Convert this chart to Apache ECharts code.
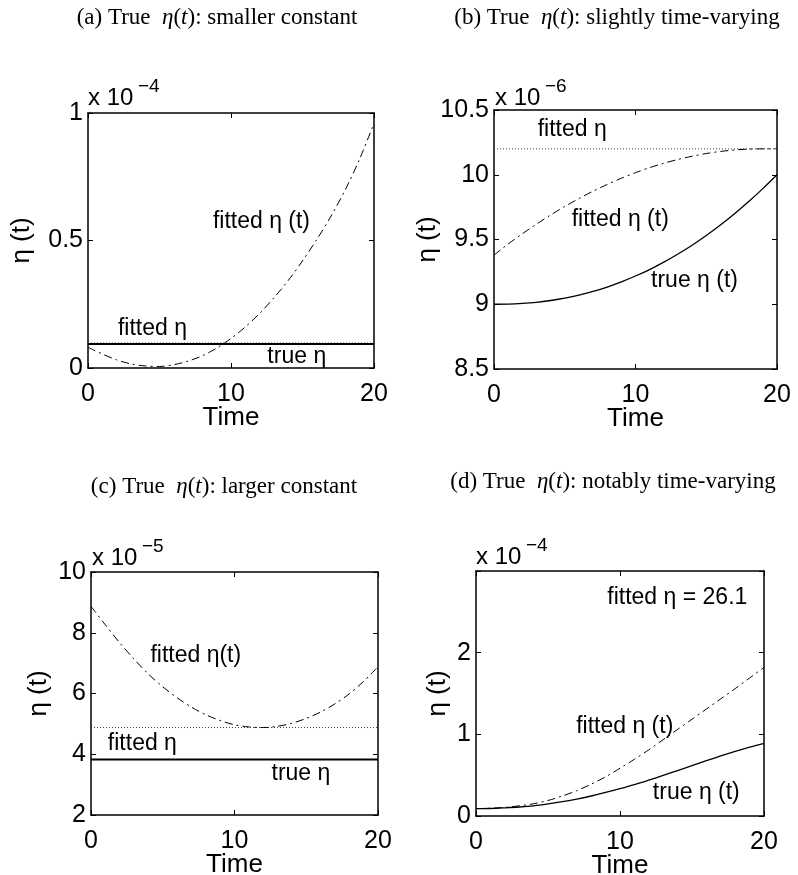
<!DOCTYPE html>
<html>
<head>
<meta charset="utf-8">
<script src="https://cdn.jsdelivr.net/npm/echarts@6/dist/echarts.min.js"></script>
<style>
html,body{margin:0;padding:0;background:#fff;}
#main{width:798px;height:875px;}
</style>
</head>
<body>
<div id="main"></div>
<script>
// ---------- data ----------
const time = [0,1,2,3,4,5,6,7,8,9,10,11,12,13,14,15,16,17,18,19,20];
const timeEnds = [0, 20];

// (a) smaller constant  (x 10^-4)
const aFittedCurve = [0.081,0.055,0.032,0.016,0.008,0.006,0.013,0.027,0.048,0.078,0.116,0.161,0.214,0.275,0.343,0.420,0.504,0.596,0.700,0.820,0.960];
const aTrueConst = 0.094;
const aFittedConst = 0.098;

// (b) slightly time-varying  (x 10^-6)
const bFittedCurve = [9.380,9.465,9.544,9.619,9.689,9.755,9.816,9.873,9.925,9.973,10.016,10.055,10.089,10.118,10.143,10.164,10.180,10.191,10.198,10.200,10.200];
const bTrueCurve = [9.000,9.001,9.006,9.015,9.029,9.047,9.071,9.099,9.133,9.173,9.218,9.268,9.325,9.388,9.456,9.531,9.612,9.699,9.793,9.893,10.000];
const bFittedConst = 10.2;

// (c) larger constant  (x 10^-5)
const cFittedCurve = [8.87,8.26,7.67,7.13,6.64,6.22,5.86,5.55,5.30,5.11,4.97,4.90,4.88,4.92,5.02,5.18,5.39,5.66,5.99,6.40,6.88];
const cTrueConst = 3.83;
const cFittedConst = 4.88;

// (d) notably time-varying  (x 10^-4)
const dFittedCurve = [0.090,0.095,0.105,0.125,0.150,0.190,0.245,0.310,0.390,0.480,0.585,0.695,0.810,0.935,1.060,1.185,1.310,1.435,1.560,1.690,1.820];
const dTrueCurve = [0.090,0.092,0.100,0.110,0.125,0.148,0.175,0.208,0.245,0.288,0.335,0.385,0.440,0.497,0.557,0.618,0.678,0.735,0.790,0.842,0.890];

// panel titles and texts
const panelTitles = [
  ['(a) True', 'smaller constant'],
  ['(b) True', 'slightly time-varying'],
  ['(c) True', 'larger constant'],
  ['(d) True', 'notably time-varying']
];
const exponents = ['\u22124', '\u22126', '\u22125', '\u22124'];
const xName = 'Time';
const yName = '\u03b7 (t)';

const aNotes = [[12.13, 0.573, 'fitted \u03b7 (t)'], [4.51, 0.154, 'fitted \u03b7'], [14.6, 0.043, 'true \u03b7']];
const bNotes = [[5.53, 10.347, 'fitted \u03b7'], [8.92, 9.657, 'fitted \u03b7 (t)'], [14.17, 9.18, 'true \u03b7 (t)']];
const cNotes = [[7.30, 7.26, 'fitted \u03b7(t)'], [3.58, 4.36, 'fitted \u03b7'], [14.63, 3.35, 'true \u03b7']];
const dNotes = [[13.98, 2.67, 'fitted \u03b7 = 26.1'], [10.33, 1.10, 'fitted \u03b7 (t)'], [15.3, 0.29, 'true \u03b7 (t)']];

// ---------- layout ----------
const grids = [
  {left: 88, top: 113, width: 286, height: 255},
  {left: 494, top: 110, width: 283, height: 259},
  {left: 91, top: 572, width: 287, height: 243},
  {left: 476, top: 571, width: 288, height: 245}
];
const yRanges = [
  {min: 0, max: 1, interval: 0.5},
  {min: 8.5, max: 10.5, interval: 0.5},
  {min: 2, max: 10, interval: 2},
  {min: 0, max: 3, interval: 1}
];
const yNameGaps = [53, 53, 39, 25];
const titlePos = [[217, 18], [617, 18], [224, 487], [613, 482]];
const expPos = [[88, 98.4], [495, 98.4], [92, 558], [476, 557]];

const SANS = 'Liberation Sans';
const SERIF = 'Liberation Serif';
const DASHDOT = [8, 4, 2, 4];
const DOTTED = [1, 2];

const xAxes = [], yAxes = [], series = [], graphics = [];
const axisLineStyle = {show: true, onZero: false, lineStyle: {color: '#000', width: 1.5}};
const tickStyle = {show: true, inside: true, length: 5, lineStyle: {color: '#000', width: 1}};

grids.forEach((g, i) => {
  const xBase = {gridIndex: i, type: 'value', min: 0, max: 20, interval: 10,
    axisLine: axisLineStyle, splitLine: {show: false}, axisTick: tickStyle};
  xAxes.push(Object.assign({}, xBase, {position: 'bottom',
    axisLabel: {show: true, color: '#000', fontFamily: SANS, fontSize: 25, margin: 14, showMinLabel: true, showMaxLabel: true},
    name: xName, nameLocation: 'middle', nameGap: 37, nameMoveOverlap: false,
    nameTextStyle: {color: '#000', fontFamily: SANS, fontSize: 26}}));
  xAxes.push(Object.assign({}, xBase, {position: 'top', axisLabel: {show: false}}));
  const yr = yRanges[i];
  const yBase = {gridIndex: i, type: 'value', min: yr.min, max: yr.max, interval: yr.interval,
    axisLine: axisLineStyle, splitLine: {show: false}, axisTick: tickStyle};
  yAxes.push(Object.assign({}, yBase, {position: 'left',
    axisLabel: {show: true, color: '#000', fontFamily: SANS, fontSize: 25, margin: 5, showMinLabel: true, showMaxLabel: true,
      formatter: v => (i === 3 && v === 3) ? '' : String(v)},
    name: yName, nameLocation: 'middle', nameGap: yNameGaps[i], nameMoveOverlap: false, nameRotate: 90,
    nameTextStyle: {color: '#000', fontFamily: SANS, fontSize: 26}}));
  yAxes.push(Object.assign({}, yBase, {position: 'right', axisLabel: {show: false}}));

  // title
  const t = panelTitles[i];
  graphics.push({type: 'text', x: titlePos[i][0], y: titlePos[i][1], silent: true,
    style: {text: '{n|' + t[0] + '  }{i|\u03b7}{n|(}{i|t}{n|): ' + t[1] + '}',
      rich: {n: {fontFamily: SERIF, fontSize: 23, fill: '#000'}, i: {fontFamily: SERIF, fontSize: 23, fontStyle: 'italic', fill: '#000'}},
      align: 'center', verticalAlign: 'middle', textAlign: 'center', textVerticalAlign: 'middle', fill: '#000'}});
  // exponent
  graphics.push({type: 'text', x: expPos[i][0], y: expPos[i][1], silent: true,
    style: {text: 'x 10', font: '24px ' + SANS, fill: '#000', align: 'left', verticalAlign: 'middle', textAlign: 'left', textVerticalAlign: 'middle'}});
  graphics.push({type: 'text', x: expPos[i][0] + 50, y: expPos[i][1] - 11.7, silent: true,
    style: {text: exponents[i], font: '19px ' + SANS, fill: '#000', align: 'left', verticalAlign: 'middle', textAlign: 'left', textVerticalAlign: 'middle'}});
});

function curve(name, gi, ys, type, width) {
  return {name, type: 'line', xAxisIndex: gi * 2, yAxisIndex: gi * 2, symbol: 'none', silent: true,
    smooth: 0.3,
    data: time.map((t, k) => [t, ys[k]]),
    lineStyle: {color: '#000', width: width, type: type, opacity: 1}, z: 3};
}
function constLine(name, gi, v, type, width, color) {
  return {name, type: 'line', xAxisIndex: gi * 2, yAxisIndex: gi * 2, symbol: 'none', silent: true,
    data: timeEnds.map(t => [t, v]),
    lineStyle: {color: color || '#000', width: width, type: type, opacity: 1}, z: 2};
}
function notes(gi, arr) {
  return {type: 'scatter', xAxisIndex: gi * 2, yAxisIndex: gi * 2, symbolSize: 0, silent: true,
    itemStyle: {opacity: 1, color: '#000'},
    data: arr.map(n => ({value: [n[0], n[1]], name: n[2]})),
    label: {show: true, position: 'inside', formatter: '{b}', color: '#000', opacity: 1,
      textBorderWidth: 0, fontFamily: SANS, fontSize: 23},
    z: 5};
}

series.push(
  constLine('fitted η (a)', 0, aFittedConst, DOTTED, 1, '#444'),
  constLine('true η (a)', 0, aTrueConst, 'solid', 2),
  curve('fitted η(t) (a)', 0, aFittedCurve, DASHDOT, 1),
  notes(0, aNotes),

  constLine('fitted η (b)', 1, bFittedConst, DOTTED, 1, '#444'),
  curve('true η(t) (b)', 1, bTrueCurve, 'solid', 1.3),
  curve('fitted η(t) (b)', 1, bFittedCurve, DASHDOT, 1),
  notes(1, bNotes),

  constLine('fitted η (c)', 2, cFittedConst, DOTTED, 1, '#444'),
  constLine('true η (c)', 2, cTrueConst, 'solid', 2),
  curve('fitted η(t) (c)', 2, cFittedCurve, DASHDOT, 1),
  notes(2, cNotes),

  curve('true η(t) (d)', 3, dTrueCurve, 'solid', 1.3),
  curve('fitted η(t) (d)', 3, dFittedCurve, DASHDOT, 1),
  notes(3, dNotes)
);

const chart = echarts.init(document.getElementById('main'), null, {renderer: 'canvas'});
chart.setOption({
  backgroundColor: '#fff',
  animation: false,
  grid: grids.map(g => Object.assign({containLabel: false, outerBoundsMode: 'none'}, g)),
  xAxis: xAxes,
  yAxis: yAxes,
  series: series,
  graphic: graphics
});
</script>
</body>
</html>
